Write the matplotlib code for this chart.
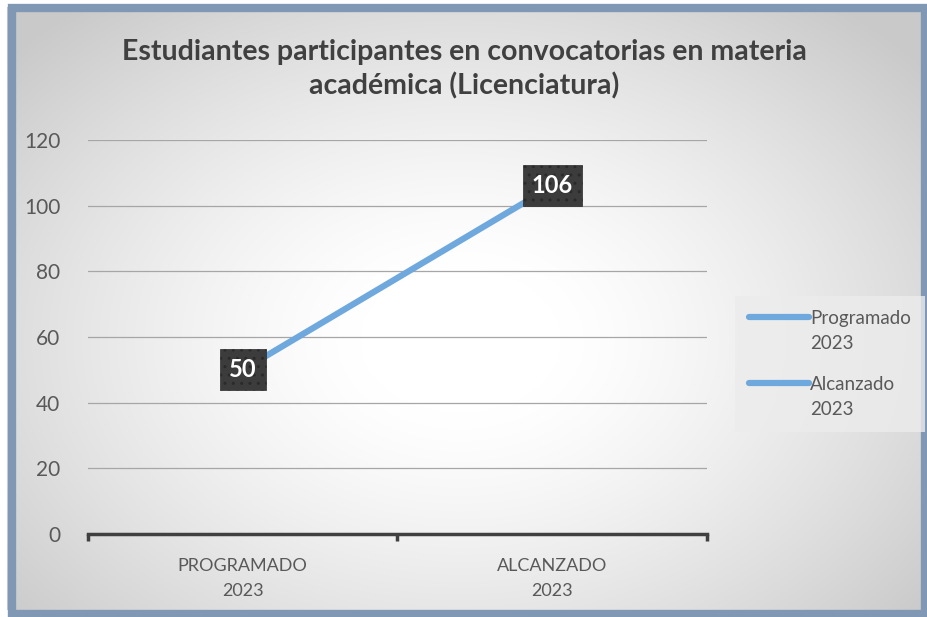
import matplotlib
matplotlib.use('Agg')
import matplotlib.pyplot as plt
import numpy as np
from matplotlib.lines import Line2D
from matplotlib.patches import Rectangle
from matplotlib.legend_handler import HandlerLine2D

# data
categories = ['PROGRAMADO\n2023', 'ALCANZADO\n2023']
values = [50, 106]
legend_labels = ['Programado\n2023', 'Alcanzado\n2023']
title = 'Estudiantes participantes en convocatorias en materia\nacadémica (Licenciatura)'

line_color = '#6fa8dc'
text_color = '#595959'

plt.rcParams['font.family'] = ['Lato', 'DejaVu Sans']


# legend line next to the first text line, like in Excel
class TopLineHandler(HandlerLine2D):
    def create_artists(self, legend, orig_handle, xdescent, ydescent, width, height, fontsize, trans):
        arts = super().create_artists(legend, orig_handle, xdescent, ydescent, width, height, fontsize, trans)
        for a in arts:
            a.set_ydata(np.asarray(a.get_ydata()) + 0.78 * fontsize)
        return arts


fig = plt.figure(figsize=(9.28, 6.17), dpi=100)

# radial gradient background
bg = fig.add_axes([0, 0, 1, 1], zorder=-10)
yy, xx = np.mgrid[0:617, 0:928]
r = np.sqrt(((xx - 460) / 500.0) ** 2 + ((yy - 340) / 360.0) ** 2)
shade = 1.0 - 0.21 * np.clip((r - 0.2) / 1.0, 0, 1) ** 1.3
bg.imshow(np.dstack([shade, shade, shade]), extent=[0, 1, 0, 1], aspect='auto', origin='upper')
bg.set_axis_off()

# white outside the frame, then the frame
fig.patches.append(Rectangle((0, 0), 1, 1, transform=fig.transFigure, fill=False,
                             edgecolor='white', linewidth=10, zorder=4))
fig.patches.append(Rectangle((12 / 928, 3 / 617), 913 / 928, 606 / 617, transform=fig.transFigure,
                             fill=False, edgecolor='#8098b4', linewidth=6, zorder=5))

ax = fig.add_axes([0.0948, 0.1345, 0.667, 0.6386])
ax.set_facecolor('none')
x = np.arange(len(categories))
ax.plot(x, values, color=line_color, linewidth=4.5, solid_capstyle='round', zorder=3)

for xi, v in zip(x, values):
    ax.text(xi, v, str(v), ha='center', va='center', color='white', fontsize=17, fontweight='bold',
            zorder=5,
            bbox=dict(boxstyle='square,pad=0.38', facecolor='#3c3c3c', edgecolor='#2a2a2a',
                      linewidth=0.5, hatch='..'))

ax.set_xlim(-0.5, 1.5)
ax.set_ylim(0, 120)
ax.set_yticks(np.arange(0, 121, 20))
ax.yaxis.grid(True, color='#a6a6a6', linewidth=0.9)
ax.set_axisbelow(True)
ax.tick_params(axis='y', length=0, labelsize=15, labelcolor=text_color, pad=20)
ax.set_xticks(x)
ax.set_xticklabels(categories, fontsize=13, color=text_color, linespacing=1.75)
ax.set_xticks([-0.5, 0.5, 1.5], minor=True)
ax.tick_params(axis='x', which='major', length=0, pad=17)
ax.tick_params(axis='x', which='minor', length=5, width=2.5, color='#404040', direction='out')
for s in ['top', 'right', 'left']:
    ax.spines[s].set_visible(False)
ax.spines['bottom'].set_color('#404040')
ax.spines['bottom'].set_linewidth(2.5)

fig.text(0.5, 1 - 69 / 617, title, ha='center', va='center', fontsize=20.5, fontweight='bold',
         color='#404040', linespacing=1.35)

handles = [Line2D([0], [0], color=line_color, linewidth=4.5, solid_capstyle='round') for _ in legend_labels]
leg = fig.legend(handles, legend_labels, loc='upper left', bbox_to_anchor=(735 / 928, 1 - 296 / 617),
                 frameon=True, fontsize=13.5, handlelength=3.2, handletextpad=0.05,
                 labelspacing=1.25, borderpad=0.75, borderaxespad=0, fancybox=False,
                 handler_map={Line2D: TopLineHandler()})
leg.get_frame().set_facecolor('#ececec')
leg.get_frame().set_edgecolor('none')
leg.get_frame().set_alpha(0.8)
for t in leg.get_texts():
    t.set_color(text_color)
    t.set_linespacing(1.6)

fig.savefig('out.png', dpi=100)
